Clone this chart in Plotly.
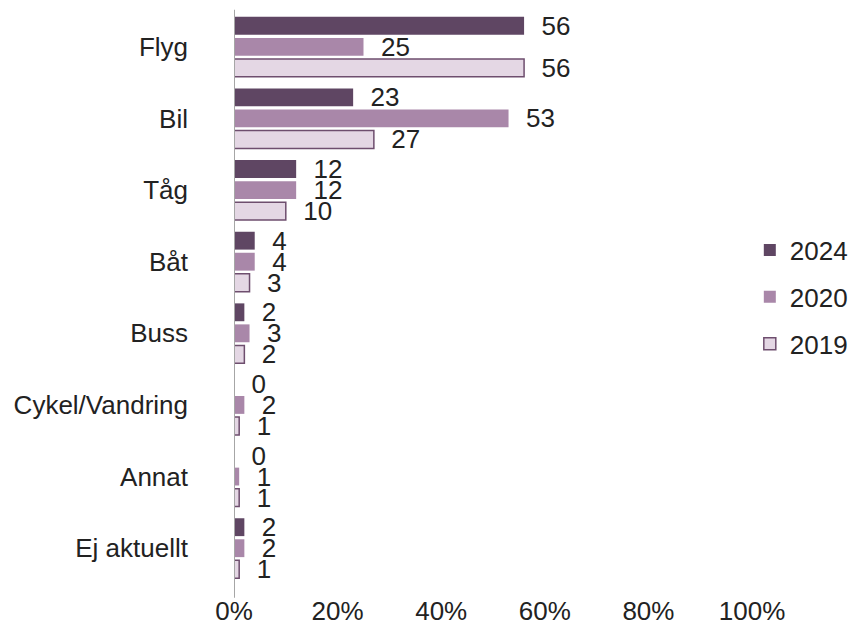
import plotly.graph_objects as go

# Travel mode shares (%) per survey year
categories = ["Flyg", "Bil", "Tåg", "Båt", "Buss", "Cykel/Vandring", "Annat", "Ej aktuellt"]
years = ["2024", "2020", "2019"]
values_2024 = [56, 23, 12, 4, 2, 0, 0, 2]
values_2020 = [25, 53, 12, 4, 3, 2, 1, 2]
values_2019 = [56, 27, 10, 3, 2, 1, 1, 1]
x_ticks = [0, 20, 40, 60, 80, 100]

series = [
    (years[0], values_2024, "#5f4663", "#5f4663", 0, "legend"),
    (years[1], values_2020, "#a987a9", "#a987a9", 0, "legend2"),
    (years[2], values_2019, "#e4d7e4", "#6e4e6e", 1.5, "legend3"),
]

font = "Liberation Sans, Arial, sans-serif"
fs = 26
pad = "\u00a0\u00a0"  # space between bar end and its value label

fig = go.Figure()
for name, vals, fill, edge, lw, leg in series:
    fig.add_trace(go.Bar(
        y=categories, x=vals, name=name, orientation="h", legend=leg,
        marker=dict(color=fill, line=dict(color=edge, width=lw)),
        text=[pad + str(v) for v in vals], textposition="outside",
        constraintext="none",
        textfont=dict(size=fs, color="#222222", family=font),
        cliponaxis=False,
    ))

# vertical category axis line
fig.add_shape(type="line", xref="x", yref="paper", x0=0, x1=0, y0=-0.024, y1=1.002,
              line=dict(color="#a6a6a6", width=2))


def legend_box(y):
    return dict(xref="container", yref="container", x=0.878, xanchor="left",
                y=y, yanchor="middle", font=dict(size=fs, color="#222222"),
                itemwidth=30, bgcolor="rgba(0,0,0,0)")


fig.update_layout(
    width=854, height=625,
    margin=dict(l=234, r=102, t=11, b=41, autoexpand=False),
    paper_bgcolor="white", plot_bgcolor="white",
    barmode="group", bargap=0.12, bargroupgap=0.15,
    font=dict(family=font, size=fs, color="#222222"),
    showlegend=True,
    legend=legend_box(0.600),
    legend2=legend_box(0.525),
    legend3=legend_box(0.450),
)
fig.update_xaxes(range=[0, 100], tickvals=x_ticks, ticktext=[f"{t}%" for t in x_ticks],
                 showgrid=False, zeroline=False, showline=False, ticks="",
                 ticklabelstandoff=9, tickfont=dict(size=fs, color="#222222"))
fig.update_yaxes(autorange="reversed", showgrid=False, showline=False, zeroline=False,
                 ticks="", ticklabelstandoff=45,
                 tickfont=dict(size=fs, color="#222222"))

fig.write_html("out.html")
